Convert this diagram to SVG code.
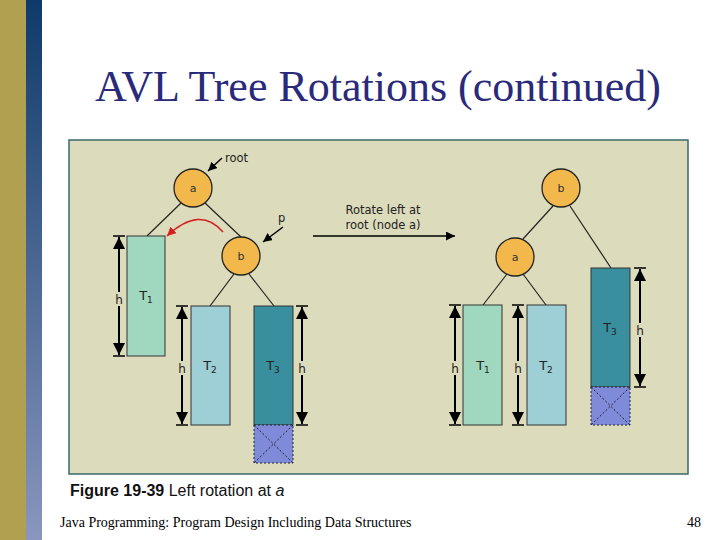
<svg xmlns="http://www.w3.org/2000/svg" width="720" height="540" viewBox="0 0 720 540">
<style>
.nd{fill:#f2b84b;stroke:#222;stroke-width:1.3}
.nt{font-family:"DejaVu Sans",sans-serif;font-size:11px;fill:#333;text-anchor:middle}
.lab{font-family:"DejaVu Sans",sans-serif;font-size:13px;fill:#222;text-anchor:middle}
.hl{font-family:"DejaVu Sans",sans-serif;font-size:12px;fill:#222;text-anchor:middle}
.sm{font-family:"DejaVu Sans",sans-serif;font-size:11.5px;fill:#222}
.e{stroke:#222;stroke-width:1.2;fill:none}
.dim{stroke:#000;stroke-width:2;marker-start:url(#ah);marker-end:url(#ah)}
.tk{stroke:#000;stroke-width:1.5}
.t1{fill:#9fd8bf;stroke:#333;stroke-width:1}
.t2{fill:#9fcfd6;stroke:#333;stroke-width:1}
.t3{fill:#3a8f9e;stroke:#333;stroke-width:1}
.hx{fill:#7f8ad8;stroke:#223;stroke-width:1;stroke-dasharray:2 2}
.hx2{stroke:#223;stroke-width:1;stroke-dasharray:2 2}
</style>
<defs>
<linearGradient id="bl" x1="0" y1="0" x2="0" y2="1"><stop offset="0" stop-color="#0e3a6a"/><stop offset="1" stop-color="#8a96be"/></linearGradient>
<marker id="ah" viewBox="0 0 10 10" refX="10" refY="5" markerWidth="6" markerHeight="6" orient="auto-start-reverse"><path d="M0,0L10,5L0,10z" fill="#000"/></marker>
<marker id="rh" viewBox="0 0 10 10" refX="10" refY="5" markerWidth="6" markerHeight="6" orient="auto"><path d="M0,0L10,5L0,10z" fill="#d42020"/></marker>
</defs>
<rect width="720" height="540" fill="#fff"/>
<rect x="0" y="0" width="26" height="540" fill="#b0a050"/>
<rect x="26" y="0" width="16" height="540" fill="url(#bl)"/>
<text x="378" y="101" font-family="Liberation Serif,serif" font-size="44" fill="#2a2a7a" text-anchor="middle">AVL Tree Rotations (continued)</text>
<rect x="69" y="140" width="619" height="334" fill="#dcdcbc" stroke="#3a6a6a" stroke-width="1.5"/>
<g id="connectors">
<line class="e" x1="181" y1="203" x2="147" y2="236"/>
<line class="e" x1="205" y1="203" x2="241" y2="237"/>
<line class="e" x1="234" y1="274" x2="210" y2="306"/>
<line class="e" x1="249" y1="274" x2="274" y2="306"/>
<path d="M223,232 Q200,205 167,236" fill="none" stroke="#d42020" stroke-width="1.5" marker-end="url(#rh)"/>
<line x1="222" y1="158" x2="208" y2="171" stroke="#000" stroke-width="1.5" marker-end="url(#ah)"/>
<line x1="283" y1="227" x2="263" y2="242" stroke="#000" stroke-width="1.5" marker-end="url(#ah)"/>
<line x1="313" y1="236" x2="455" y2="236" stroke="#000" stroke-width="1.5" marker-end="url(#ah)"/>
<line class="e" x1="553" y1="206" x2="523" y2="239"/>
<line class="e" x1="570" y1="206" x2="611" y2="268"/>
<line class="e" x1="507" y1="274" x2="483" y2="305"/>
<line class="e" x1="523" y1="274" x2="546" y2="305"/>
</g>
<g id="a1"><circle class="nd" cx="193" cy="188" r="19"/><text class="nt" x="193" y="192">a</text></g>
<g id="b1"><circle class="nd" cx="241" cy="256" r="19"/><text class="nt" x="241" y="260">b</text></g>
<text class="sm" x="225" y="162">root</text>
<text class="sm" x="278" y="222">p</text>
<g id="lT1"><rect class="t1" x="127" y="236" width="38" height="120"/><text class="lab" x="146" y="300">T<tspan font-size="9" dy="3">1</tspan></text>
<line class="dim" x1="119" y1="237" x2="119" y2="355"/><line class="tk" x1="113" y1="236" x2="125" y2="236"/><line class="tk" x1="113" y1="356" x2="125" y2="356"/>
<rect x="113" y="292" width="12" height="14" fill="#dcdcbc"/><text class="hl" x="119" y="304">h</text></g>
<g id="lT2"><rect class="t2" x="191" y="306" width="39" height="119"/><text class="lab" x="210" y="370">T<tspan font-size="9" dy="3">2</tspan></text>
<line class="dim" x1="182" y1="307" x2="182" y2="424"/><line class="tk" x1="176" y1="306" x2="188" y2="306"/><line class="tk" x1="176" y1="425" x2="188" y2="425"/>
<rect x="176" y="361" width="12" height="14" fill="#dcdcbc"/><text class="hl" x="182" y="373">h</text></g>
<g id="lT3"><rect class="t3" x="254" y="306" width="39" height="119"/><text class="lab" x="273" y="370">T<tspan font-size="9" dy="3">3</tspan></text>
<rect class="hx" x="254" y="425" width="39" height="38"/><line class="hx2" x1="254" y1="425" x2="293" y2="463"/><line class="hx2" x1="293" y1="425" x2="254" y2="463"/>
<line class="dim" x1="302" y1="307" x2="302" y2="424"/><line class="tk" x1="296" y1="306" x2="308" y2="306"/><line class="tk" x1="296" y1="425" x2="308" y2="425"/>
<rect x="296" y="361" width="12" height="14" fill="#dcdcbc"/><text class="hl" x="302" y="373">h</text></g>
<text class="sm" x="383" y="214" text-anchor="middle">Rotate left at</text>
<text class="sm" x="383" y="229" text-anchor="middle">root (node a)</text>
<g id="b2"><circle class="nd" cx="561" cy="188" r="19"/><text class="nt" x="561" y="192">b</text></g>
<g id="a2"><circle class="nd" cx="515" cy="257" r="19"/><text class="nt" x="515" y="261">a</text></g>
<g id="rT1"><rect class="t1" x="463" y="305" width="39" height="120"/><text class="lab" x="483" y="370">T<tspan font-size="9" dy="3">1</tspan></text>
<line class="dim" x1="455" y1="306" x2="455" y2="424"/><line class="tk" x1="449" y1="305" x2="461" y2="305"/><line class="tk" x1="449" y1="425" x2="461" y2="425"/>
<rect x="449" y="361" width="12" height="14" fill="#dcdcbc"/><text class="hl" x="455" y="373">h</text></g>
<g id="rT2"><rect class="t2" x="527" y="305" width="39" height="120"/><text class="lab" x="546" y="370">T<tspan font-size="9" dy="3">2</tspan></text>
<line class="dim" x1="518" y1="306" x2="518" y2="424"/><line class="tk" x1="512" y1="305" x2="524" y2="305"/><line class="tk" x1="512" y1="425" x2="524" y2="425"/>
<rect x="512" y="361" width="12" height="14" fill="#dcdcbc"/><text class="hl" x="518" y="373">h</text></g>
<g id="rT3"><rect class="t3" x="591" y="268" width="39" height="119"/><text class="lab" x="610" y="332">T<tspan font-size="9" dy="3">3</tspan></text>
<rect class="hx" x="591" y="387" width="39" height="38"/><line class="hx2" x1="591" y1="387" x2="630" y2="425"/><line class="hx2" x1="630" y1="387" x2="591" y2="425"/>
<line class="dim" x1="640" y1="269" x2="640" y2="386"/><line class="tk" x1="634" y1="268" x2="646" y2="268"/><line class="tk" x1="634" y1="387" x2="646" y2="387"/>
<rect x="634" y="323" width="12" height="14" fill="#dcdcbc"/><text class="hl" x="640" y="335">h</text></g>
<text x="70" y="496" font-family="Liberation Sans,sans-serif" font-size="16" fill="#111"><tspan font-weight="bold">Figure 19-39</tspan> Left rotation at <tspan font-style="italic">a</tspan></text>
<text x="60" y="527" font-family="Liberation Serif,serif" font-size="14" fill="#000">Java Programming: Program Design Including Data Structures</text>
<text x="701" y="527" font-family="Liberation Serif,serif" font-size="14" fill="#000" text-anchor="end">48</text>
</svg>
